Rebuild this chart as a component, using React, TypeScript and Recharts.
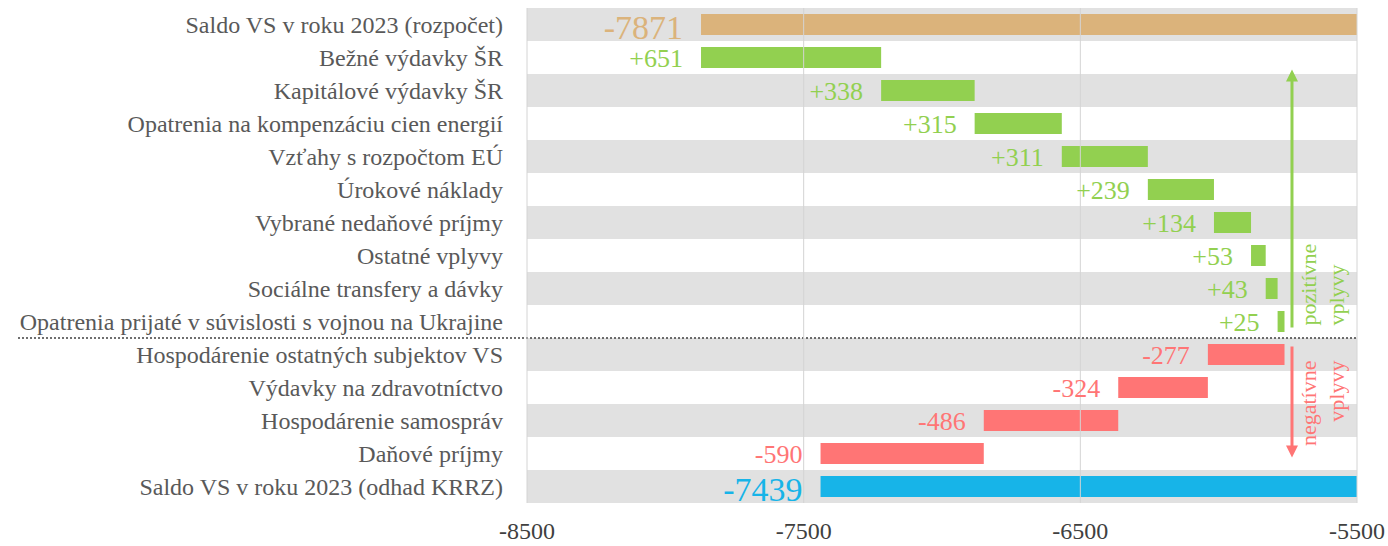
import React from "react";
import {
  BarChart,
  Bar,
  XAxis,
  YAxis,
  Cell,
  LabelList,
  ReferenceArea,
  ReferenceLine,
} from "recharts";

// kategórie a hodnoty (mil. eur)
const categories = [
  "Saldo VS v roku 2023 (rozpočet)",
  "Bežné výdavky ŠR",
  "Kapitálové výdavky ŠR",
  "Opatrenia na kompenzáciu cien energií",
  "Vzťahy s rozpočtom EÚ",
  "Úrokové náklady",
  "Vybrané nedaňové príjmy",
  "Ostatné vplyvy",
  "Sociálne transfery a dávky",
  "Opatrenia prijaté v súvislosti s vojnou na Ukrajine",
  "Hospodárenie ostatných subjektov VS",
  "Výdavky na zdravotníctvo",
  "Hospodárenie samospráv",
  "Daňové príjmy",
  "Saldo VS v roku 2023 (odhad KRRZ)",
];
const values = [-7871, 651, 338, 315, 311, 239, 134, 53, 43, 25, -277, -324, -486, -590, -7439];
const kinds = ["start", "pos", "pos", "pos", "pos", "pos", "pos", "pos", "pos", "pos", "neg", "neg", "neg", "neg", "end"];
const xTicks = [-8500, -7500, -6500, -5500];

const FONT = "'Liberation Serif', serif";
const colors: Record<string, string> = {
  start: "#DBB37B",
  pos: "#92D050",
  neg: "#FF7575",
  end: "#17B4E8",
};

let running = 0;
const data = categories.map((name, i) => {
  const v = values[i];
  const kind = kinds[i];
  let range: number[];
  if (kind === "start" || kind === "end") {
    range = [v, 0];
    running = v;
  } else {
    const next = running + v;
    range = [Math.min(running, next), Math.max(running, next)];
    running = next;
  }
  return { name, range, kind, label: v > 0 ? `+${v}` : `${v}` };
});

const ValueLabel = (props: any) => {
  const vb = props.viewBox ?? props;
  const d = data.find((e) => e.label === props.value) ?? data[props.index];
  if (!d) return null;
  const big = d.kind === "start" || d.kind === "end";
  return (
    <text
      x={vb.x - 18}
      y={vb.y + vb.height / 2 + (big ? 14 : 9)}
      textAnchor="end"
      fill={colors[d.kind]}
      fontSize={big ? 34 : 26}
      fontFamily={FONT}
    >
      {d.label}
    </text>
  );
};

const Band = (props: any) => (
  <rect x={props.x} y={props.y} width={props.width} height={props.height} fill="#E1E1E1" />
);

const Separator = (props: any) => (
  <line
    x1={18}
    x2={props.x + props.width}
    y1={props.y}
    y2={props.y}
    stroke="#404040"
    strokeWidth={1.5}
    strokeDasharray="2 2"
  />
);

const UpArrow = (props: any) => {
  const { x1, y1, y2 } = props;
  const top = Math.min(y1, y2) + 12;
  const bottom = Math.max(y1, y2) + 6;
  return (
    <g>
      <line x1={x1} x2={x1} y1={bottom} y2={top + 10} stroke="#92D050" strokeWidth={3} />
      <polygon points={`${x1},${top} ${x1 - 6},${top + 12} ${x1 + 6},${top + 12}`} fill="#92D050" />
      <g transform={`translate(${x1 + 24},${bottom - 2}) rotate(-90)`} fill="#92D050" fontFamily={FONT} fontSize={22}>
        <text x={0} y={0} textAnchor="start">pozitívne</text>
        <text x={0} y={28} textAnchor="start">vplyvy</text>
      </g>
    </g>
  );
};

const DownArrow = (props: any) => {
  const { x1, y1, y2 } = props;
  const top = Math.min(y1, y2) - 8;
  const bottom = Math.max(y1, y2) + 4;
  return (
    <g>
      <line x1={x1} x2={x1} y1={top} y2={bottom - 10} stroke="#FF7575" strokeWidth={3} />
      <polygon points={`${x1},${bottom} ${x1 - 6},${bottom - 12} ${x1 + 6},${bottom - 12}`} fill="#FF7575" />
      <g transform={`translate(${x1 + 24},${top + 14}) rotate(-90)`} fill="#FF7575" fontFamily={FONT} fontSize={22}>
        <text x={0} y={0} textAnchor="end">negatívne</text>
        <text x={0} y={28} textAnchor="end">vplyvy</text>
      </g>
    </g>
  );
};

export default function App() {
  return (
    <div style={{ position: "absolute", left: 0, top: 0 }}>
      <BarChart
        width={1388}
        height={546}
        data={data}
        layout="vertical"
        margin={{ top: 8, right: 31, bottom: 0, left: 0 }}
        barSize={21}
      >
        <XAxis
          type="number"
          domain={[-8500, -5500]}
          ticks={xTicks}
          interval={0}
          allowDataOverflow
          axisLine={false}
          tickLine={false}
          tickSize={0}
          tickMargin={19}
          height={43}
          tick={{ fill: "#404040", fontSize: 24, fontFamily: FONT }}
        />
        <YAxis
          type="category"
          dataKey="name"
          width={527}
          interval={0}
          axisLine={false}
          tickLine={false}
          tickSize={0}
          tickMargin={24}
          tick={{ fill: "#595959", fontSize: 24, fontFamily: FONT }}
        />
        {categories
          .filter((_, i) => i % 2 === 0)
          .map((c) => (
            <ReferenceArea key={c} y1={c} y2={c} shape={<Band />} />
          ))}
        {xTicks.map((t) => (
          <ReferenceLine key={t} x={t} stroke="#D4D4D4" strokeWidth={1} />
        ))}
        <Bar dataKey="range" isAnimationActive={false}>
          {data.map((d) => (
            <Cell key={d.name} fill={colors[d.kind]} />
          ))}
          <LabelList dataKey="label" content={<ValueLabel />} />
        </Bar>
        <ReferenceArea y1={categories[10]} y2={categories[10]} shape={<Separator />} />
        <ReferenceLine
          segment={[
            { x: -5735, y: categories[9] },
            { x: -5735, y: categories[1] },
          ]}
          shape={<UpArrow />}
        />
        <ReferenceLine
          segment={[
            { x: -5735, y: categories[10] },
            { x: -5735, y: categories[13] },
          ]}
          shape={<DownArrow />}
        />
      </BarChart>
    </div>
  );
}
